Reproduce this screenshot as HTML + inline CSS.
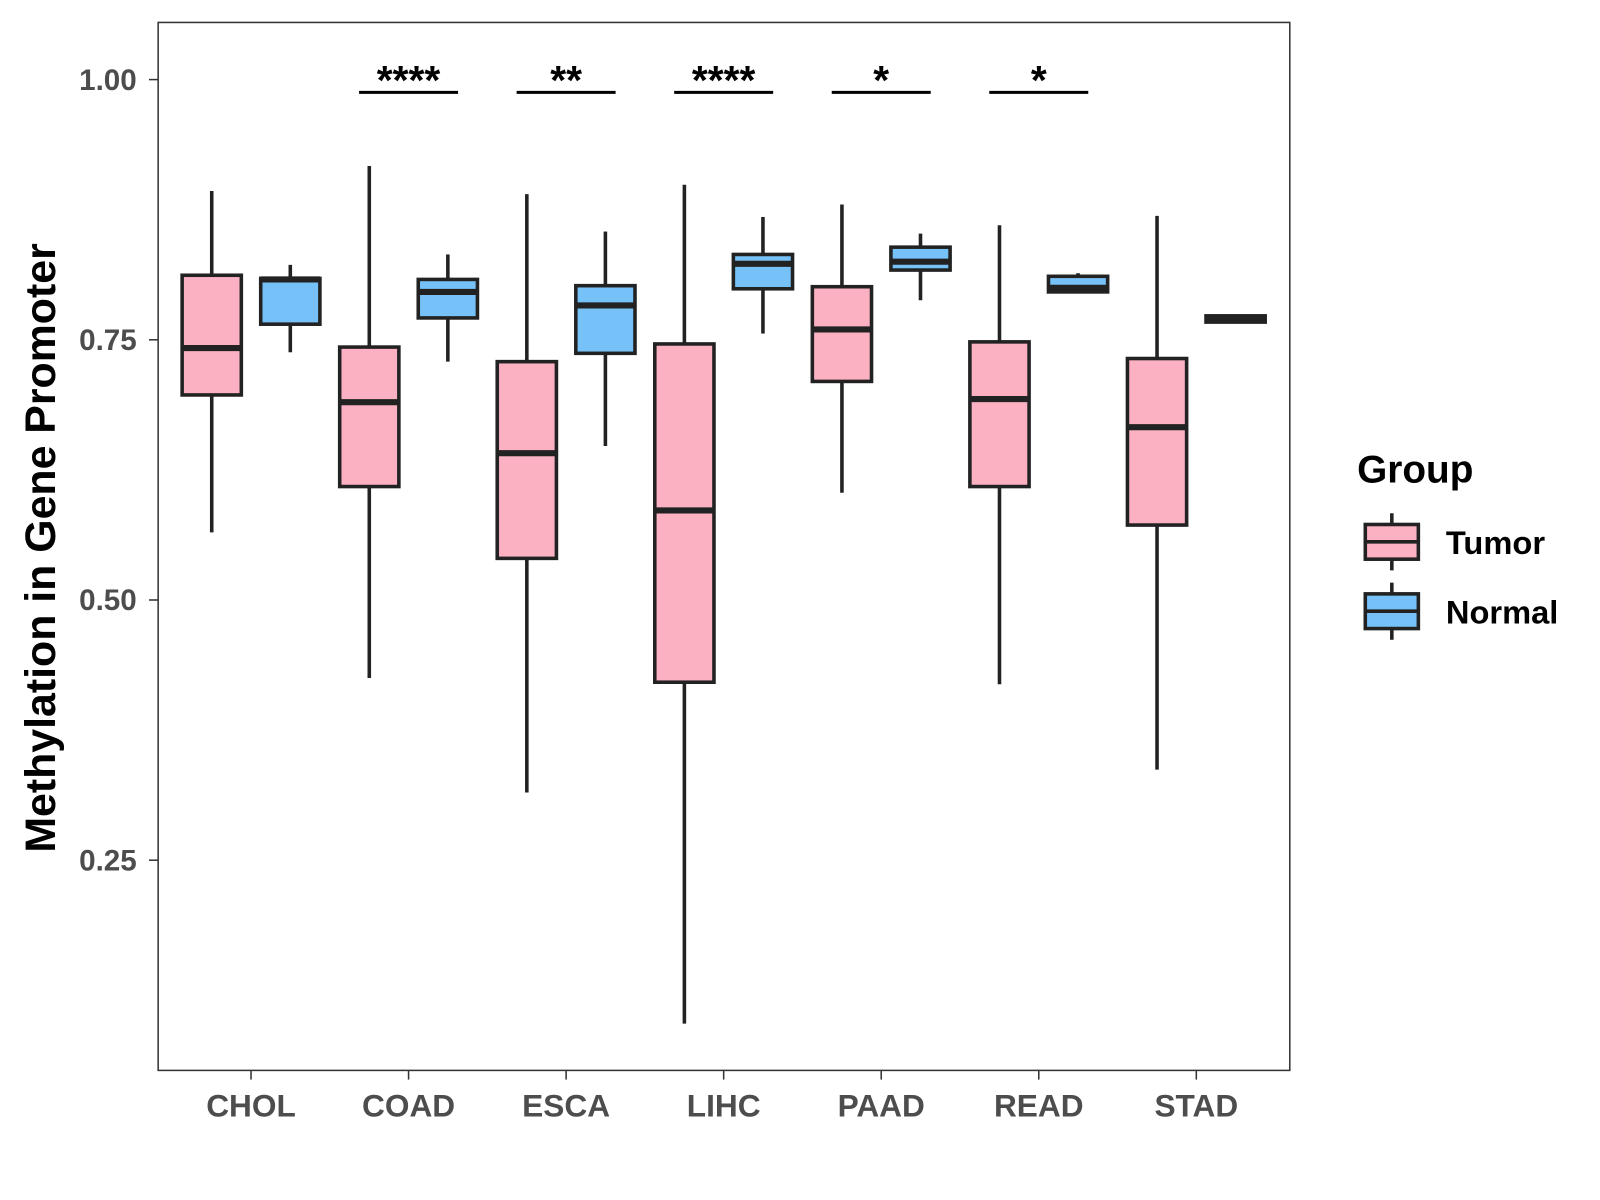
<!DOCTYPE html>
<html><head><meta charset="utf-8"><style>
body{margin:0;background:#fff}
svg{display:block;font-family:"Liberation Sans",Arial,sans-serif}
</style></head><body>
<svg id="chart" width="1600" height="1200" viewBox="0 0 1600 1200">
<rect x="0" y="0" width="1600" height="1200" fill="#fff"/>
<g transform="scale(1.0204)">
<g id="plot"></g>
<text x="54" y="537" transform="rotate(-90 54 537)" text-anchor="middle" font-size="42" font-weight="bold" fill="#000">Methylation in Gene Promoter</text>
<g>
<text x="1330" y="473" font-size="38" font-weight="bold">Group</text>
<g>
<line x1="1364" y1="503" x2="1364" y2="514" stroke="#222" stroke-width="3.5"/>
<line x1="1364" y1="548" x2="1364" y2="559" stroke="#222" stroke-width="3.5"/>
<rect x="1338" y="514" width="52" height="34" fill="#fbb1c2" stroke="#222" stroke-width="3.5"/>
<line x1="1338" y1="531" x2="1390" y2="531" stroke="#222" stroke-width="3.5"/>
<text x="1417" y="543" font-size="32" font-weight="bold">Tumor</text>
</g>
<g>
<line x1="1364" y1="571" x2="1364" y2="582" stroke="#222" stroke-width="3.5"/>
<line x1="1364" y1="616" x2="1364" y2="627" stroke="#222" stroke-width="3.5"/>
<rect x="1338" y="582" width="52" height="34" fill="#76c1f7" stroke="#222" stroke-width="3.5"/>
<line x1="1338" y1="599" x2="1390" y2="599" stroke="#222" stroke-width="3.5"/>
<text x="1417" y="611" font-size="32" font-weight="bold">Normal</text>
</g>
</g>
</g>
</svg>
<script>
const categories=["CHOL","COAD","ESCA","LIHC","PAAD","READ","STAD"];
const tumorLow=[0.565,0.425,0.315,0.093,0.603,0.419,0.337];
const tumorQ1=[0.697,0.609,0.540,0.421,0.710,0.609,0.572];
const tumorMed=[0.742,0.690,0.641,0.586,0.760,0.693,0.666];
const tumorQ3=[0.812,0.743,0.729,0.746,0.801,0.748,0.732];
const tumorHigh=[0.893,0.917,0.890,0.899,0.880,0.860,0.869];
const normalLow=[0.738,0.729,0.648,0.756,0.788,0.795,0.768];
const normalQ1=[0.765,0.771,0.737,0.799,0.817,0.796,0.767];
const normalMed=[0.808,0.796,0.783,0.823,0.825,0.800,0.770];
const normalQ3=[0.809,0.808,0.802,0.832,0.839,0.811,0.773];
const normalHigh=[0.822,0.832,0.854,0.868,0.852,0.814,0.772];
const sigLabels=["","****","**","****","*","*",""];
const yTicks=[0.25,0.50,0.75,1.00];
const yTickLabels=["0.25","0.50","0.75","1.00"];

const NS="http://www.w3.org/2000/svg";
const L=155,T=22,R=1264,B=1049;
const y=v=>78+(1-v)*1020;
const x=i=>246+i*154.4;
const g=document.getElementById('plot');
function el(tag,attrs,parent){const e=document.createElementNS(NS,tag);for(const k in attrs)e.setAttribute(k,attrs[k]);(parent||g).appendChild(e);return e;}

const frame=el('rect',{x:L,y:T,width:R-L,height:B-T,fill:'none',stroke:'#333','stroke-width':1.5});



yTicks.forEach((v,i)=>{
  const tk=el('line',{x1:L-9,x2:L,y1:y(v),y2:y(v),stroke:'#333','stroke-width':1.5});
  
  
  const t=el('text',{x:L-21,y:y(v)+10,'text-anchor':'end','font-size':29,'font-weight':'bold',fill:'#4d4d4d'});
  t.textContent=yTickLabels[i];
  
  
});

function box(cx,lo,q1,md,q3,hi,fill,name){
  const grp=el('g',{});
  
  
  const w=58,s='#222',sw=3.5;
  el('line',{x1:cx,x2:cx,y1:y(hi),y2:y(q3),stroke:s,'stroke-width':sw},grp);
  el('line',{x1:cx,x2:cx,y1:y(q1),y2:y(lo),stroke:s,'stroke-width':sw},grp);
  el('rect',{x:cx-w/2,y:y(q3),width:w,height:Math.max(y(q1)-y(q3),1),fill:fill,stroke:s,'stroke-width':sw},grp);
  el('line',{x1:cx-w/2,x2:cx+w/2,y1:y(md),y2:y(md),stroke:s,'stroke-width':6},grp);
}

categories.forEach((c,i)=>{
  const cx=x(i);
  box(cx-38.5,tumorLow[i],tumorQ1[i],tumorMed[i],tumorQ3[i],tumorHigh[i],'#fbb1c2','box-tumor-'+c.toLowerCase());
  box(cx+38.5,normalLow[i],normalQ1[i],normalMed[i],normalQ3[i],normalHigh[i],'#76c1f7','box-normal-'+c.toLowerCase());
  const tk=el('line',{x1:cx,x2:cx,y1:B,y2:B+9,stroke:'#333','stroke-width':1.5});
  
  
  const t=el('text',{x:cx,y:1094,'text-anchor':'middle','font-size':31,'font-weight':'bold',fill:'#4d4d4d'});
  t.textContent=c;
  
  
  if(sigLabels[i]){
    const b=el('line',{x1:cx-48.5,x2:cx+48.5,y1:90.5,y2:90.5,stroke:'#000','stroke-width':3});
    
    
    const s=el('text',{x:cx,y:92,'text-anchor':'middle','font-size':40,'font-weight':'bold',fill:'#000'});
    s.textContent=sigLabels[i];
    
    
  }
});
</script>
</body></html>
